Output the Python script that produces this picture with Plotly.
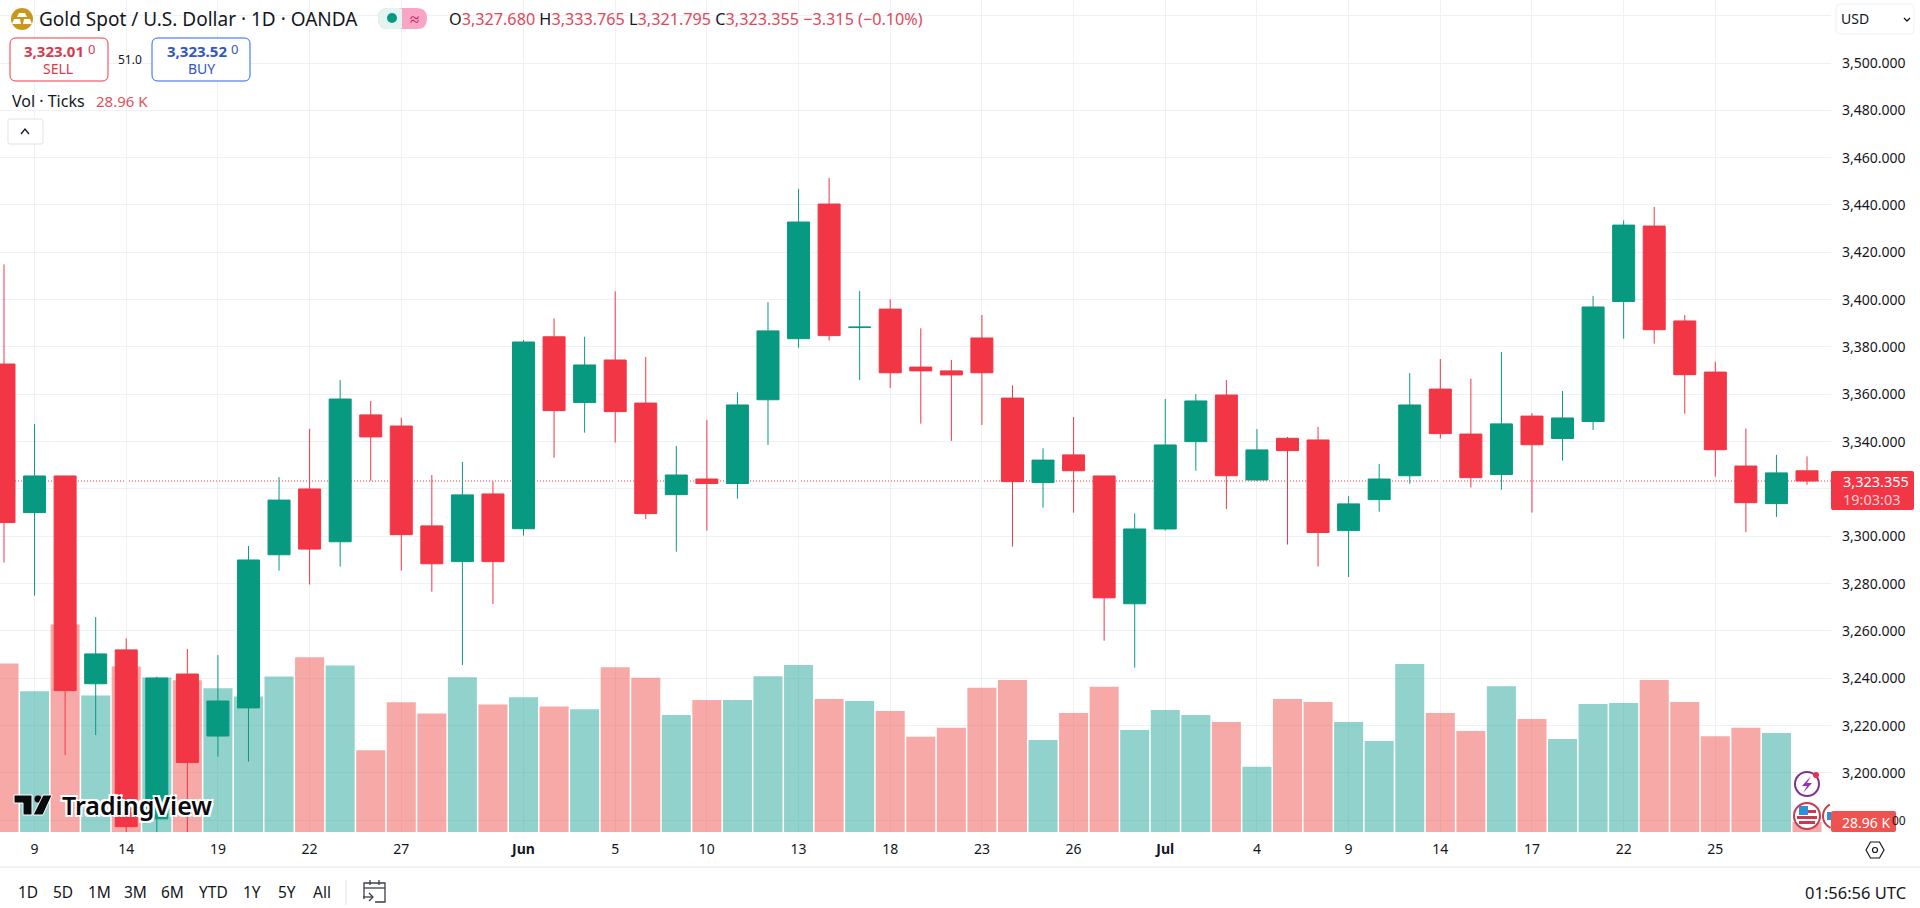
import math
import plotly.graph_objects as go

opens = [3372.8,3310.0,3325.5,3237.7,3252.0,3180.6,3241.8,3215.6,3227.5,3292.2,
         3320.0,3297.7,3351.3,3346.6,3304.4,3289.3,3317.9,3303.2,3384.3,3356.5,
         3374.5,3356.3,3317.6,3324.2,3322.3,3357.7,3383.5,3440.4,3388.2,3396.0,
         3371.5,3369.9,3383.8,3358.4,3322.7,3334.4,3325.5,3271.5,3303.1,3340.0,
         3359.7,3323.8,3341.4,3340.7,3302.4,3315.5,3325.6,3362.2,3343.2,3326.1,
         3350.8,3341.3,3348.5,3399.2,3431.1,3391.0,3369.4,3329.7,3313.8,3327.68]
highs = [3414.9,3347.5,3325.5,3265.9,3256.9,3240.7,3252.4,3249.8,3295.9,3325.0,
         3345.4,3366.0,3357.2,3350.1,3325.9,3331.4,3323.1,3383.0,3392.1,3384.3,
         3403.5,3375.8,3338.2,3349.2,3360.8,3398.9,3446.8,3451.4,3403.7,3400.1,
         3387.9,3374.5,3393.5,3363.8,3337.2,3350.4,3325.5,3309.7,3358.0,3360.1,
         3366.0,3345.3,3342.0,3346.2,3317.0,3330.6,3369.0,3374.9,3366.6,3377.9,
         3352.0,3361.4,3401.6,3433.5,3439.2,3393.5,3373.7,3345.5,3334.4,3333.765]
lows = [3288.9,3274.9,3207.6,3216.0,3170.0,3170.0,3170.0,3206.9,3204.8,3285.5,
        3279.6,3287.2,3323.5,3285.5,3276.6,3245.6,3271.4,3300.3,3333.2,3343.8,
        3339.6,3307.3,3293.5,3302.4,3315.9,3338.6,3379.7,3382.7,3366.0,3362.7,
        3347.6,3340.3,3347.0,3295.6,3312.1,3310.0,3255.9,3244.5,3302.4,3327.7,
        3311.5,3323.4,3296.5,3287.2,3282.8,3310.4,3322.2,3341.3,3320.6,3319.7,
        3310.0,3332.0,3344.9,3383.5,3381.4,3351.8,3325.2,3301.8,3308.2,3321.795]
closes = [3305.8,3325.5,3234.8,3250.3,3177.3,3240.1,3204.4,3230.4,3290.0,3315.3,
          3294.6,3358.0,3342.0,3300.7,3288.4,3317.5,3289.3,3382.1,3353.1,3372.4,
          3352.7,3309.6,3325.9,3322.3,3355.5,3386.8,3432.8,3384.8,3388.4,3369.1,
          3369.9,3368.2,3369.1,3323.1,3332.2,3327.7,3274.0,3303.1,3338.6,3357.2,
          3325.6,3336.5,3336.2,3301.6,3313.7,3324.2,3355.5,3343.4,3324.8,3347.5,
          3338.7,3350.0,3396.9,3431.5,3387.3,3368.3,3336.6,3314.2,3326.8,3323.355]
volumes_k = [489,408,602,396,480,448,440,417,393,451,
             507,483,237,376,344,449,370,391,364,356,
             478,447,339,383,383,452,484,386,380,351,
             276,302,418,441,267,345,421,296,354,339,
             319,189,386,377,319,264,487,345,293,423,
             328,270,371,374,441,377,278,302,287,28.96]
tick_positions = [1,4,7,10,13,17,20,23,26,29,32,35,38,41,44,47,50,53,56]
tick_labels = ["9","14","19","22","27","<b>Jun</b>","5","10","13","18","23","26","<b>Jul</b>","4","9","14","17","22","25"]
price_ticks = [3180,3200,3220,3240,3260,3280,3300,3320,3340,3360,3380,3400,3420,3440,3460,3480,3500,3520]
price_labels = ["","3,200.000","3,220.000","3,240.000","3,260.000","3,280.000","3,300.000","","3,340.000",
                "3,360.000","3,380.000","3,400.000","3,420.000","3,440.000","3,460.000","3,480.000","3,500.000",""]
last_close = closes[-1]

UP = "#089981"; DOWN = "#F23645"
VOL_UP = "rgba(38,166,154,0.5)"; VOL_DOWN = "rgba(239,83,80,0.5)"
GRID = "#f0f1f4"; INK = "#131722"
FONT = "Noto Sans"
W, H, PR, PB = 1920, 908, 1831, 832

def X(p): return p / PR
def Y(p): return (PB - p) / PB

idx = list(range(len(opens)))
fig = go.Figure()
fig.add_trace(go.Bar(x=idx, y=volumes_k, width=0.95, xaxis="x", yaxis="y",
                     marker=dict(color=[VOL_DOWN if c < o else VOL_UP for o, c in zip(opens, closes)], line_width=0),
                     hoverinfo="skip", showlegend=False))
fig.add_trace(go.Candlestick(x=idx, open=opens, high=highs, low=lows, close=closes, xaxis="x", yaxis="y2",
                             whiskerwidth=0, showlegend=False,
                             increasing=dict(line=dict(color=UP, width=1), fillcolor=UP),
                             decreasing=dict(line=dict(color=DOWN, width=1), fillcolor=DOWN)))

shapes = []
anns = []

def txt(px, py, text, size=14, color=INK, anchor="left", **fontkw):
    anns.append(dict(x=X(px), y=Y(py), xref="paper", yref="paper", text=text, showarrow=False,
                     xanchor=anchor, yanchor="middle", borderpad=0,
                     font=dict(family=FONT, size=size, color=color, **fontkw)))

def rrect(x0, y0, x1, y1, r, fill=None, line=None, lw=1):
    a, b, c, d = X(x0), Y(y0), X(x1), Y(y1)
    rx, ry = r / PR, r / PB
    path = (f"M{a+rx},{b} L{c-rx},{b} Q{c},{b} {c},{b-ry} L{c},{d+ry} Q{c},{d} {c-rx},{d} "
            f"L{a+rx},{d} Q{a},{d} {a},{d+ry} L{a},{b-ry} Q{a},{b} {a+rx},{b} Z")
    shapes.append(dict(type="path", path=path, xref="paper", yref="paper", layer="above",
                       fillcolor=fill or "rgba(0,0,0,0)", line=dict(color=line or "rgba(0,0,0,0)", width=lw if line else 0)))

def rect(x0, y0, x1, y1, fill):
    shapes.append(dict(type="rect", xref="paper", yref="paper", layer="above", x0=X(x0), x1=X(x1), y0=Y(y0), y1=Y(y1),
                       fillcolor=fill, line_width=0))

def circ(cx, cy, r, fill=None, line=None, lw=1):
    shapes.append(dict(type="circle", xref="paper", yref="paper", layer="above",
                       x0=X(cx-r), x1=X(cx+r), y0=Y(cy-r), y1=Y(cy+r),
                       fillcolor=fill or "rgba(0,0,0,0)", line=dict(color=line or "rgba(0,0,0,0)", width=lw if line else 0)))

def poly(pts, fill=None, line=None, lw=1, close=True):
    d = "M" + " L".join(f"{X(a)},{Y(b)}" for a, b in pts) + (" Z" if close else "")
    shapes.append(dict(type="path", path=d, xref="paper", yref="paper", layer="above",
                       fillcolor=fill or "rgba(0,0,0,0)", line=dict(color=line or "rgba(0,0,0,0)", width=lw if line else 0)))

# last price dotted line
shapes.append(dict(type="line", xref="paper", yref="y2", x0=0, x1=1, y0=last_close, y1=last_close, layer="below",
                   line=dict(color=DOWN, width=1, dash="1px,2px")))

# header
circ(22, 19, 11, fill="#C9971C")
poly([(17,17),(27,17),(25,13),(19,13)], fill="white")
poly([(12,24),(21,24),(20,19),(14,19)], fill="white")
poly([(23,24),(32,24),(30,19),(24,19)], fill="white")
txt(38, 19, "Gold Spot / U.S. Dollar · 1D · OANDA", 19)
rrect(378, 8, 427, 29, 10, fill="#F8A5C6")
rrect(378, 8, 408, 29, 10, fill="#E3F4F1")
rect(402, 8, 414, 29, "#F8A5C6")
circ(392, 18, 5, fill="#089981")
txt(414, 18, "≈", 17, "#C2185B", anchor="center")
R = "#E0485A"
txt(448, 19, (f'O<span style="color:{R}">3,327.680</span> H<span style="color:{R}">3,333.765</span> '
              f'L<span style="color:{R}">3,321.795</span> C<span style="color:{R}">3,323.355</span> '
              f'<span style="color:{R}">−3.315 (−0.10%)</span>'), 16.2)

# order buttons
rrect(10, 38, 108, 81, 6, fill="white", line=DOWN)
txt(23, 51, "<b>3,323.01</b>", 15, "#D63A4C")
txt(87, 49, "0", 13, "#D63A4C")
txt(58, 68, "SELL", 14, "#D63A4C", anchor="center")
txt(130, 59, "51.0", 12, anchor="center")
rrect(152, 38, 250, 81, 6, fill="white", line="#2962FF")
txt(166, 51, "<b>3,323.52</b>", 15, "#2F55C8")
txt(230, 49, "0", 13, "#2F55C8")
txt(201, 68, "BUY", 14, "#2F55C8", anchor="center")

txt(11, 101, "Vol · Ticks", 16)
txt(95, 101, "28.96 K", 15, "#E0525A")
rrect(8, 119, 43, 144, 2, fill="white", line="#E0E3EB")
poly([(21,134),(25,129),(29,134)], line=INK, lw=1.3, close=False)

# currency selector
rrect(1836, 4, 1914, 34, 4, fill="white", line="#EFF1F5")
txt(1840, 19, "USD", 14)
poly([(1904,18),(1907,21),(1910,18)], line=INK, lw=1.3, close=False)

# price tag
rrect(1831, 471, 1914, 510, 2, fill=DOWN)
txt(1842, 481, "3,323.355", 14.5, "#FFFFFF")
txt(1842, 499, "19:03:03", 14.5, "#FBD0D4")

# event icons
circ(1807, 784, 12, fill="white", line="#7B2F9E", lw=2)
poly([(1811,776),(1802,786),(1807,786),(1803,793),(1812,783),(1807,783)], fill="#8E35B5")
circ(1816, 775, 3, fill="#E53050")
rect(1827, 812, 1831, 820, "#2F8FD8")
poly([(1836 + 13*math.cos(math.radians(a)), 816 + 13*math.sin(math.radians(a))) for a in range(114, 250, 8)],
     line="#C93A50", lw=2, close=False)
circ(1807, 816, 13, fill="white", line="#C93A50", lw=2)
rect(1799, 810, 1816, 813, "#C93A50")
rect(1797, 816, 1817, 819, "#C93A50")
rect(1799, 821, 1815, 824, "#C93A50")
rect(1799, 806, 1808, 815, "#2F8FD8")

# volume tag
rrect(1831, 811, 1896, 832, 2, fill="#EF5350")
txt(1841, 822, "28.96 K", 14, "#FFFFFF")
txt(1907, 820, "00", 12, anchor="right")

# logo
poly([(14,795),(32,795),(32,815),(23,815),(23,803),(14,803)], fill="#0B0B0E", line="white", lw=1)
circ(38, 799, 4, fill="#0B0B0E", line="white", lw=0.5)
poly([(43,795),(52,795),(43,815),(33,815)], fill="#0B0B0E", line="white", lw=1)
txt(61, 805, "TradingView", 25, "#0B0B0E", weight=600,
    shadow="1px 0 0 #fff,-1px 0 0 #fff,0 1px 0 #fff,0 -1px 0 #fff,2px 2px 0 #fff,-2px -2px 0 #fff,2px -2px 0 #fff,-2px 2px 0 #fff")

# bottom toolbar
poly([(0,867),(1920,867)], line="#E0E3EB", lw=1, close=False)
for p, s in [(28,"1D"),(63,"5D"),(99,"1M"),(135,"3M"),(172,"6M"),(213,"YTD"),(252,"1Y"),(287,"5Y"),(322,"All")]:
    txt(p, 892, s, 15.5, anchor="center")
poly([(346,880),(346,905)], line="#E0E3EB", lw=1, close=False)
poly([(364,899),(364,883),(385,883),(385,902),(375,902)], line="#3A3E4A", lw=1.3, close=False)
poly([(364,888),(385,888)], line="#3A3E4A", lw=1.3, close=False)
poly([(370,880),(370,885)], line="#3A3E4A", lw=1.3, close=False)
poly([(379,880),(379,885)], line="#3A3E4A", lw=1.3, close=False)
poly([(363,897),(372,897)], line="#3A3E4A", lw=1.3, close=False)
poly([(369,893),(373,897),(369,901)], line="#3A3E4A", lw=1.3, close=False)
txt(1907, 892, "01:56:56 UTC", 16.5, anchor="right")

# settings hexagon
poly([(1866,850),(1870.5,842),(1879.5,842),(1884,850),(1879.5,858),(1870.5,858)], line=INK, lw=1.2)
circ(1875, 850, 2.5, line=INK, lw=1.2)

fig.update_layout(
    width=W, height=H, margin=dict(l=0, r=W-PR, t=0, b=H-PB, pad=0),
    paper_bgcolor="white", plot_bgcolor="white", showlegend=False, boxgap=0.28, boxgroupgap=0, hovermode=False,
    font=dict(family=FONT, size=14, color=INK),
    xaxis=dict(range=[-0.131, 59.785], tickvals=tick_positions, ticktext=tick_labels, tickangle=0,
               showgrid=True, gridcolor=GRID, gridwidth=1, zeroline=False, showline=False, ticks="",
               ticklabelstandoff=7, tickfont=dict(family=FONT, size=14, color=INK),
               rangeslider=dict(visible=False)),
    yaxis=dict(range=[0, 832 * 2.9], visible=False, showgrid=False, zeroline=False, fixedrange=True),
    yaxis2=dict(range=[3175.05, 3526.62], overlaying="y", side="right", tickvals=price_ticks, ticktext=price_labels,
                showgrid=True, gridcolor=GRID, gridwidth=1, zeroline=False, showline=False,
                ticks="", ticklabelstandoff=10, tickfont=dict(family=FONT, size=14, color=INK)),
    shapes=shapes, annotations=anns,
)
fig.write_html("out.html", post_script="document.body.style.margin='0';document.documentElement.style.overflow='hidden';",
               config=dict(displayModeBar=False))
